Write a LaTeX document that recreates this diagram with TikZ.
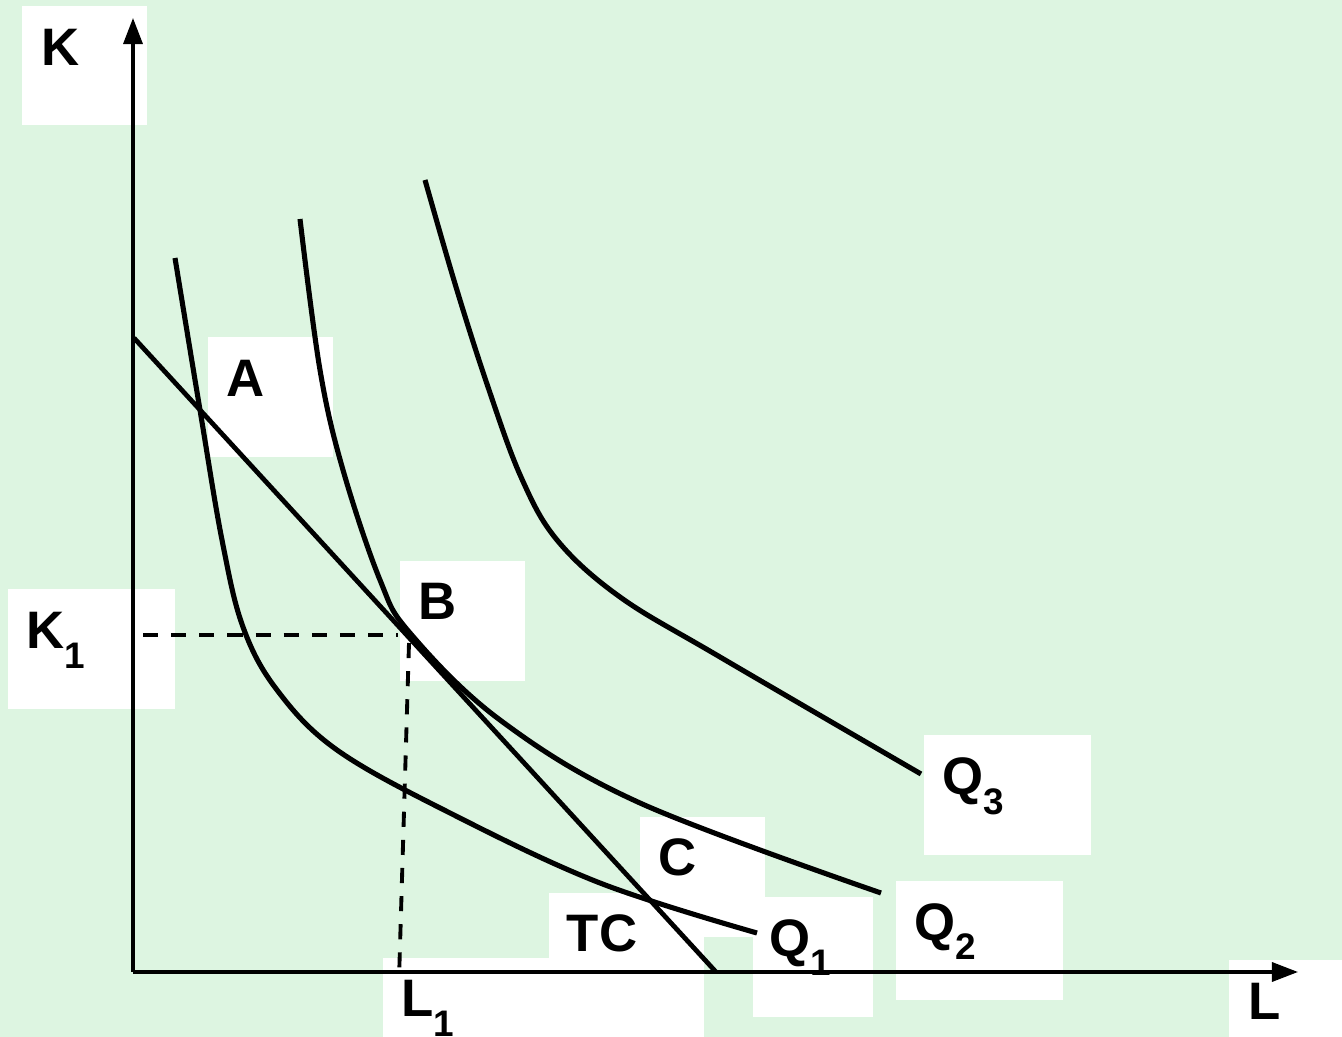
\documentclass[tikz,border=0pt]{standalone}
\usepackage{fontspec}
\setmainfont{Liberation Sans}
\usetikzlibrary{arrows.meta}
\definecolor{bggreen}{RGB}{221,245,225}
\newcommand{\subnum}[1]{\raisebox{-5.5pt}{\fontsize{10.5}{12}\selectfont #1}}
\tikzset{
  axis/.style={line width=0.95pt, -{Triangle[length=0.26cm, width=0.19cm]}},
  curve/.style={line width=1.45pt},
  guide/.style={line width=1.1pt, dash pattern=on 4.3pt off 3.7pt},
  lbl/.style={font=\fontsize{15}{18}\selectfont\bfseries, inner sep=0pt, anchor=base},
  sublbl/.style={lbl, anchor=base west}
}
\begin{document}
\begin{tikzpicture}[x=0.01cm, y=-0.01cm]
    % background
    \useasboundingbox (0,0) rectangle (1342,1037);
    \fill[bggreen] (0,0) rectangle (1342,1037);

    % white label boxes
    \fill[white] (22,6) rectangle (147,125);
    \fill[white] (208,337) rectangle (333,457);
    \fill[white] (8,589) rectangle (175,709);
    \fill[white] (400,561) rectangle (525,681);
    \fill[white] (383,958) rectangle (704,1037);
    \fill[white] (549,893) rectangle (704,958);
    \fill[white] (640,817) rectangle (765,937);
    \fill[white] (753,897) rectangle (873,1017);
    \fill[white] (896,881) rectangle (1063,1000);
    \fill[white] (924,735) rectangle (1091,855);
    \fill[white] (1229,960) rectangle (1342,1037);

    % axes
    \coordinate (O) at (133,972);
    \coordinate (Ktop) at (133,18);
    \coordinate (Lend) at (1298,972);
    \draw[axis] (O) -- (Ktop);
    \draw[axis] (O) -- (Lend);

    % isoquants
    \draw[curve] plot[smooth, tension=0.6] coordinates {(175,258) (200,410) (222,540) (243,627) (277,690) (337,750) (450,813) (600,883) (757,933)};
    \draw[curve] plot[smooth, tension=0.6] coordinates {(300,219) (320,370) (343,470) (380,580) (410,633) (500,720) (640,803) (881,893)};
    \draw[curve] plot[smooth, tension=0.6] coordinates {(425,180) (456,287) (488,387) (521,477) (557,540) (620,597) (720,657) (921,774)};

    % isocost line TC
    \coordinate (TCtop) at (134,338);
    \coordinate (TCend) at (716,972);
    \draw[line width=1.35pt] (TCtop) -- (TCend);

    % guides to K1 and L1
    \coordinate (Kguide) at (143,635);
    \coordinate (Bleft) at (398,635);
    \coordinate (Bbelow) at (409,643);
    \coordinate (Lguide) at (399,980);
    \draw[guide] (Kguide) -- (Bleft);
    \draw[guide] (Bbelow) -- (Lguide);

    % labels
    \node[lbl] (K) at (60.5,66) {K};
    \node[lbl] (A) at (245.5,397) {A};
    \node[lbl] (B) at (437.5,620) {B};
    \node[lbl] (C) at (677.5,876) {C};
    \node[lbl] (TC) at (602,952) {TC};
    \node[lbl] (L) at (1265,1019) {L};
    \node[sublbl] (K1) at (26,649) {K\subnum{1}};
    \node[sublbl] (L1) at (401,1017) {L\subnum{1}};
    \node[sublbl] (Q1) at (769,956) {Q\subnum{1}};
    \node[sublbl] (Q2) at (914,940) {Q\subnum{2}};
    \node[sublbl] (Q3) at (942,795) {Q\subnum{3}};
\end{tikzpicture}
\end{document}
